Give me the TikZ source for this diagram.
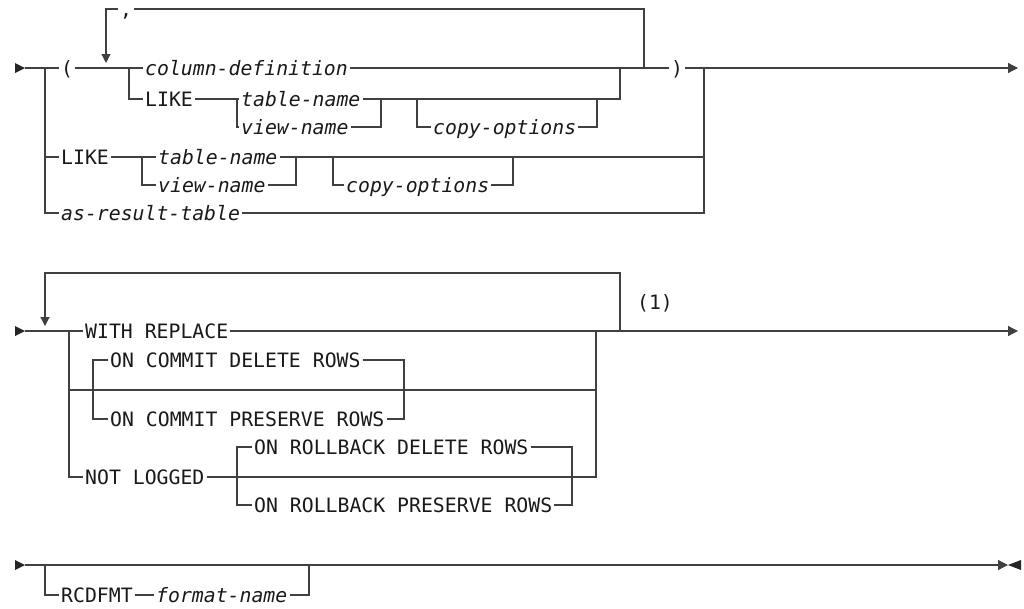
\documentclass[tikz,border=0pt]{standalone}
\usepackage{fontspec}
\usepackage{tikz}
\usetikzlibrary{arrows.meta}
\newfontfamily\synfont{DejaVu Sans Mono}

\tikzset{
  syn/.style={anchor=west,inner sep=0pt,inner xsep=2pt,text height=14.4pt,text depth=0pt,
    text=black!90,font=\synfont\fontsize{19.8}{24}\selectfont},
  var/.style={syn,font=\synfont\itshape\fontsize{19.8}{24}\selectfont},
  rail/.style={line width=1.2pt,draw=black!75},
  endtip/.style={-{Triangle[length=10pt,width=10pt]}},
}

\begin{document}
\begin{tikzpicture}[x=1pt,y=-1pt]
  \useasboundingbox (0,0) rectangle (1024,608);

  % first row
  \coordinate (s1) at (25,68);
  \coordinate (j1) at (45,68);
  \coordinate (j2) at (129,68);
  \coordinate (loopT) at (106,63);
  \coordinate (loopR) at (644,68);
  \coordinate (j3) at (237,99);
  \coordinate (j4) at (381,99);
  \coordinate (j5) at (417,99);
  \coordinate (j6) at (597,99);
  \coordinate (j7) at (620,68);
  \coordinate (j8) at (704,68);
  \coordinate (j10) at (142,157);
  \coordinate (j11) at (296,157);
  \coordinate (j12) at (333,157);
  \coordinate (j13) at (513,157);
  \coordinate (e1) at (1018,68);

  \node[syn] (lp) at (59,68) {(};
  \node[syn,anchor=center] (comma) at (126,9) {,};
  \node[var] (coldef) at (143,68) {column-definition};
  \node[syn] (like1) at (143,99) {LIKE};
  \node[var] (tn1) at (239,99) {table-name};
  \node[var] (vn1) at (239,127) {view-name};
  \node[var] (co1) at (431,127) {copy-options};
  \node[syn] (rp) at (669,68) {)};
  \node[syn] (like2) at (59,157) {LIKE};
  \node[var] (tn2) at (156,157) {table-name};
  \node[var] (vn2) at (156,185) {view-name};
  \node[var] (co2) at (344,185) {copy-options};
  \node[var] (art) at (59,213) {as-result-table};

  \fill[black!85] (s1) -- ++(-10,-5) -- ++(0,10) -- cycle;
  \draw[rail] (s1) -- (lp.west);
  \draw[rail] (j1) |- (like2.west);
  \draw[rail] (j1) |- (art.west);
  \draw[rail] (lp.east) -- (coldef.west);
  \draw[rail,-{Triangle[length=9pt,width=9pt]}] (comma.west) -| (loopT);
  \draw[rail] (comma.east) -| (loopR);
  \draw[rail] (j2) |- (like1.west);
  \draw[rail] (coldef.east) -- (rp.west);
  \draw[rail,endtip] (rp.east) -- (e1);
  \draw[rail] (like1.east) -- (tn1.west);
  \draw[rail] (j3) |- (vn1.west);
  \draw[rail] (tn1.east) -- (j4) -| (j7);
  \draw[rail] (vn1.east) -| (j4);
  \draw[rail] (j5) |- (co1.west);
  \draw[rail] (co1.east) -| (j6);
  \draw[rail] (like2.east) -- (tn2.west);
  \draw[rail] (j10) |- (vn2.west);
  \draw[rail] (tn2.east) -- (j11) -| (j8);
  \draw[rail] (vn2.east) -| (j11);
  \draw[rail] (j12) |- (co2.west);
  \draw[rail] (co2.east) -| (j13);
  \draw[rail] (art.east) -| (j8);

  % second row
  \coordinate (s2) at (25,331);
  \coordinate (k1) at (69,331);
  \coordinate (k2) at (596,331);
  \coordinate (k3) at (620,331);
  \coordinate (tl2) at (45,273);
  \coordinate (loopB) at (45,326);
  \coordinate (cmL) at (93,390);
  \coordinate (cmR) at (404,390);
  \coordinate (cmE) at (596,390);
  \coordinate (rbL) at (237,477);
  \coordinate (rbR) at (572,477);
  \coordinate (e2) at (1018,331);

  \node[syn] (wr) at (83,331) {WITH REPLACE};
  \node[syn] (ocd) at (108,360) {ON COMMIT DELETE ROWS};
  \node[syn] (ocp) at (108,419) {ON COMMIT PRESERVE ROWS};
  \node[syn] (nl) at (83,477) {NOT LOGGED};
  \node[syn] (ord) at (252,447) {ON ROLLBACK DELETE ROWS};
  \node[syn] (orp) at (252,505) {ON ROLLBACK PRESERVE ROWS};
  \node[syn,anchor=center] (note) at (655,302) {(1)};

  \fill[black!85] (s2) -- ++(-10,-5) -- ++(0,10) -- cycle;
  \draw[rail] (s2) -- (wr.west);
  \draw[rail,endtip] (wr.east) -- (e2);
  \draw[rail,-{Triangle[length=9pt,width=9pt]}] (k3) |- (tl2) -- (loopB);
  \draw[rail] (k1) |- (nl.west);
  \draw[rail] (k1) |- (cmE);
  \draw[rail] (ocd.west) -| (cmL) |- (ocp.west);
  \draw[rail] (ocd.east) -| (cmR) |- (ocp.east);
  \draw[rail] (nl.east) -| (k2);
  \draw[rail] (ord.west) -| (rbL) |- (orp.west);
  \draw[rail] (ord.east) -| (rbR) |- (orp.east);

  % third row
  \coordinate (s3) at (25,565);
  \coordinate (m1) at (45,565);
  \coordinate (m2) at (309,565);
  \coordinate (e3) at (1008,565);

  \node[syn] (rcd) at (59,595) {RCDFMT};
  \node[var] (fmt) at (154,595) {format-name};

  \fill[black!85] (s3) -- ++(-10,-5) -- ++(0,10) -- cycle;
  \draw[rail,endtip] (s3) -- (e3);
  \fill[black!85] (e3) -- ++(13,-5) -- ++(0,10) -- cycle;
  \draw[rail] (m1) |- (rcd.west);
  \draw[rail] (rcd.east) -- (fmt.west);
  \draw[rail] (fmt.east) -| (m2);
\end{tikzpicture}
\end{document}
